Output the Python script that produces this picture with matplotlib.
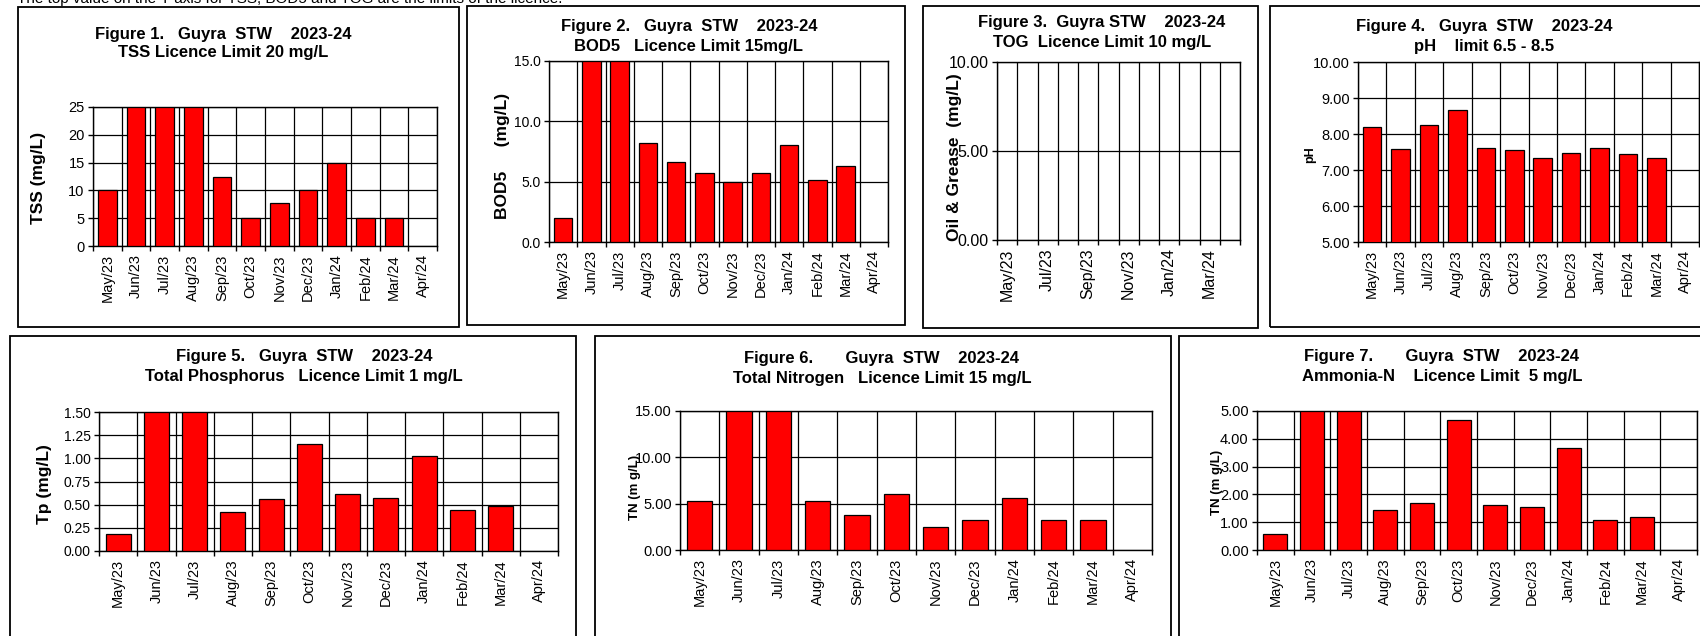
import numpy as np
import matplotlib
matplotlib.use("Agg")
import matplotlib.pyplot as plt
from matplotlib.patches import Rectangle
from matplotlib.ticker import FormatStrFormatter

plt.rcParams['font.family'] = ['Liberation Sans', 'DejaVu Sans']

W, H = 1700, 636

months = ['May/23', 'Jun/23', 'Jul/23', 'Aug/23', 'Sep/23', 'Oct/23',
          'Nov/23', 'Dec/23', 'Jan/24', 'Feb/24', 'Mar/24', 'Apr/24']

# monthly results (bars that run off the top are set to the axis limit)
tss = [10, 25, 25, 25, 12.5, 5, 7.7, 10, 15, 5, 5, np.nan]
bod5 = [2.0, 15, 15, 8.2, 6.6, 5.7, 5.0, 5.7, 8.0, 5.1, 6.3, np.nan]
tog = [np.nan, np.nan, np.nan, np.nan, np.nan, np.nan,
       np.nan, np.nan, np.nan, np.nan, np.nan, np.nan]
ph = [8.19, 7.58, 8.26, 8.67, 7.62, 7.55, 7.33, 7.47, 7.62, 7.44, 7.33, np.nan]
tp = [0.18, 1.5, 1.5, 0.42, 0.56, 1.16, 0.61, 0.57, 1.03, 0.44, 0.49, np.nan]
tn = [5.3, 15, 15, 5.3, 3.8, 6.0, 2.5, 3.2, 5.6, 3.2, 3.2, np.nan]
nh3 = [0.56, 5, 5, 1.44, 1.68, 4.66, 1.63, 1.53, 3.68, 1.07, 1.2, np.nan]

note = "The top value on the Y axis for TSS, BOD5 and TOG are the limits of the licence."


def fx(x):
    return x / W


def fy(y):
    return 1 - y / H


def box(x0, y0, x1, y1):
    fig.add_artist(Rectangle((fx(x0), fy(y1)), fx(x1 - x0), (y1 - y0) / H,
                             transform=fig.transFigure, fill=False,
                             ec='black', lw=1.3))


def panel(px, vals, yticks, fmt, title, tpos, ylabel, lpos, lsize,
          xfs=10.5, yfs=10.5, every=1):
    left, top, right, bottom = px
    ax = fig.add_axes([fx(left), fy(bottom), fx(right - left), (bottom - top) / H])
    x = np.arange(len(months))
    ax.bar(x, vals, width=0.65, color='#ff0000', edgecolor='black',
           linewidth=0.9, zorder=3)
    ax.set_xlim(-0.5, len(months) - 0.5)
    ax.set_ylim(yticks[0], yticks[-1])

    # category boundaries carry the grid and the tick marks
    ax.set_xticks(np.arange(-0.5, len(months), 1))
    ax.set_xticklabels([])
    ax.set_xticks(x[::every], minor=True)
    ax.set_xticklabels(months[::every], minor=True, rotation=90, fontsize=xfs)
    ax.tick_params(axis='x', which='major', direction='out', length=3.5,
                   width=1, color='black')
    ax.tick_params(axis='x', which='minor', length=0, pad=6)

    ax.set_yticks(yticks)
    ax.yaxis.set_major_formatter(FormatStrFormatter(fmt))
    ax.tick_params(axis='y', direction='out', length=3.5, width=1,
                   labelsize=yfs, pad=2.5)

    ax.grid(True, which='major', color='black', lw=0.9, zorder=0)
    ax.set_axisbelow(True)
    for s in ax.spines.values():
        s.set_color('black')
        s.set_linewidth(1)

    cx, y1, y2 = tpos
    fig.text(fx(cx), fy(y1), title[0], ha='center', va='center',
             fontsize=12, fontweight='bold')
    fig.text(fx(cx), fy(y2), title[1], ha='center', va='center',
             fontsize=12, fontweight='bold')
    fig.text(fx(lpos[0]), fy(lpos[1]), ylabel, ha='center', va='center',
             rotation=90, fontsize=lsize, fontweight='bold')
    return ax


fig = plt.figure(figsize=(W / 100, H / 100), dpi=100)

fig.text(fx(17), fy(3), note, fontsize=11, va='baseline', ha='left')

# panel frames
box(18, 7, 459, 327)
box(467, 6, 905, 325)
box(923, 6, 1258, 328)
box(1270, 6, 1712, 327)
box(10, 336, 576, 650)
box(595, 336, 1171, 650)
box(1179, 336, 1712, 650)

panel((93, 107, 437, 246), tss, [0, 5, 10, 15, 20, 25], '%d',
      ("Figure 1.   Guyra  STW    2023-24", "TSS Licence Limit 20 mg/L"),
      (223, 34, 53), "TSS (mg/L)", (39, 178), 12.5)

panel((549, 61, 888, 242), bod5, [0, 5, 10, 15], '%.1f',
      ("Figure 2.   Guyra  STW    2023-24", "BOD5   Licence Limit 15mg/L"),
      (689, 27, 47), "BOD5     (mg/L)", (503, 156), 12.5, yfs=10)

panel((997, 62, 1240, 240), tog, [0, 5, 10], '%.2f',
      ("Figure 3.  Guyra STW    2023-24", "TOG  Licence Limit 10 mg/L"),
      (1102, 23, 43), "Oil & Grease  (mg/L)", (954, 157), 12.5,
      xfs=11.5, yfs=11.5, every=2)

panel((1358, 62, 1699, 242), ph, [5, 6, 7, 8, 9, 10], '%.2f',
      ("Figure 4.   Guyra  STW    2023-24", "pH    limit 6.5 - 8.5"),
      (1484, 27, 47), "pH", (1310, 155), 9)

panel((99, 412, 558, 551), tp, [0, 0.25, 0.5, 0.75, 1.0, 1.25, 1.5], '%.2f',
      ("Figure 5.   Guyra  STW    2023-24",
       "Total Phosphorus   Licence Limit 1 mg/L"),
      (304, 357, 376), "Tp (mg/L)", (45, 484), 12.5, yfs=10)

panel((680, 411, 1152, 550), tn, [0, 5, 10, 15], '%.2f',
      ("Figure 6.       Guyra  STW    2023-24",
       "Total Nitrogen   Licence Limit 15 mg/L"),
      (882, 358, 378), "TN (m g/L)", (635, 487), 9.5)

panel((1257, 411, 1697, 550), nh3, [0, 1, 2, 3, 4, 5], '%.2f',
      ("Figure 7.       Guyra  STW    2023-24",
       "Ammonia-N    Licence Limit  5 mg/L"),
      (1442, 357, 377), "TN (m g/L)", (1217, 482), 9.5)

fig.savefig("out.png", dpi=100)
